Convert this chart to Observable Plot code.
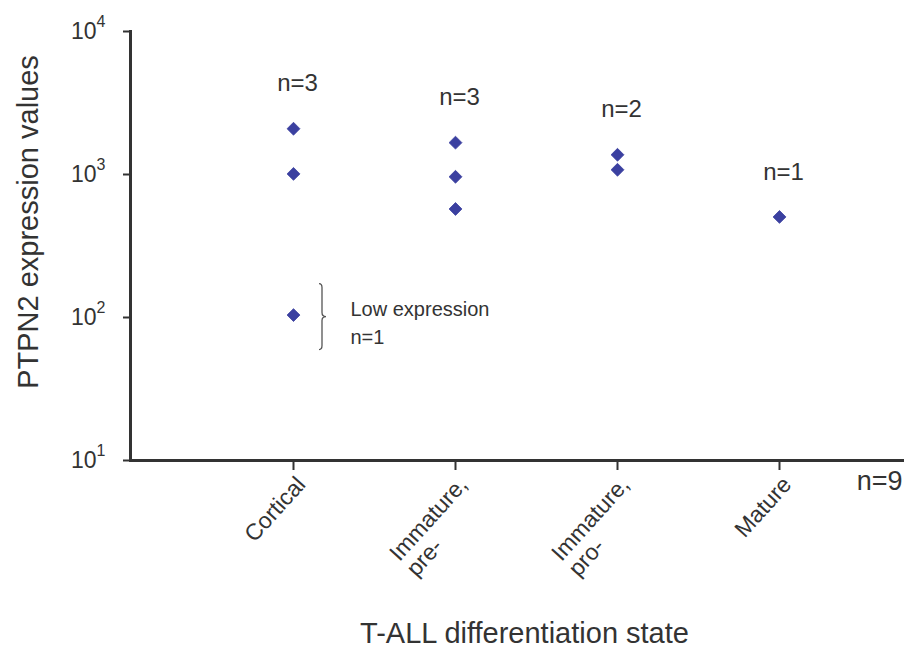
<!DOCTYPE html>
<html><head><meta charset="utf-8">
<script src="https://cdn.jsdelivr.net/npm/d3@7"></script>
<script src="https://cdn.jsdelivr.net/npm/@observablehq/plot@0.6"></script>
<style>body{margin:0;background:#fff;} svg{display:block}</style>
</head><body><div id="chart"></div>
<script>
// Categories (x) and values (PTPN2 expression) per category
const categories = ["Cortical", "Immature,\npre-", "Immature,\npro-", "Mature"];
const cortical = [2090, 1010, 104];
const immaturePre = [1670, 964, 574];
const immaturePro = [1374, 1079];
const mature = [505];
const yTicks = [10, 100, 1000, 10000];
const lowExpressionValue = 104;
const lowExpressionLabel = "Low expression\nn=1";
const xTitle = "T-ALL differentiation state";
const yTitle = "PTPN2 expression values";

const groups = [cortical, immaturePre, immaturePro, mature];
const rows = groups.flatMap((vals, i) => vals.map(v => ({cat: categories[i], value: v})));
const summary = groups.map((vals, i) => ({cat: categories[i], max: d3.max(vals), n: vals.length}));
const total = d3.sum(groups, g => g.length);

const ink = "#333";
const font = "Liberation Sans, Arial, sans-serif";

// rotated x tick labels: first line ends at the tick, lines are left-aligned
const tickFont = 23, angle = -48;
const ctx = document.createElement("canvas").getContext("2d");
ctx.font = `${tickFont}px "Liberation Sans", Arial, sans-serif`;
const rad = angle * Math.PI / 180;
const tickLabelMarks = categories.map(c => {
  const w1 = ctx.measureText(c.split("\n")[0]).width;
  return Plot.text([c], {
    x: d => d, frameAnchor: "bottom", text: d => d, rotate: angle,
    textAnchor: "start", lineAnchor: "top",
    dx: 1 - Math.cos(rad) * w1, dy: 14 - Math.sin(rad) * w1,
    fontSize: tickFont, fill: ink
  });
});

const chart = Plot.plot({
  width: 904, height: 650,
  marginTop: 31, marginBottom: 190, marginLeft: 130, marginRight: 0,
  style: {fontFamily: font, color: ink, background: "#fff"},
  x: {type: "point", domain: categories, range: [292, 779], padding: 0},
  y: {type: "log", domain: [10, 10000]},
  marks: [
    Plot.axisY({ticks: yTicks, tickSize: 7, tickFormat: () => "", stroke: ink, strokeWidth: 2, label: null}),
    Plot.axisX({tickSize: 10, tickFormat: () => "", stroke: ink, strokeWidth: 2, label: null}),
    Plot.frame({anchor: "left", stroke: ink, strokeWidth: 3}),
    Plot.ruleY([10], {stroke: ink, strokeWidth: 3}),
    // y tick labels 10^k
    Plot.text(yTicks, {y: d => d, frameAnchor: "left", text: () => "10", textAnchor: "end", lineAnchor: "middle", dx: -34, fontSize: 23, fill: ink}),
    Plot.text(yTicks, {y: d => d, frameAnchor: "left", text: d => String(Math.round(Math.log10(d))), textAnchor: "start", lineAnchor: "middle", dx: -34, dy: -10, fontSize: 16, fill: ink}),
    ...tickLabelMarks,
    // points
    Plot.dot(rows, {x: "cat", y: "value", symbol: "diamond2", r: 5.8, fill: "#3b40a0", stroke: "#3b40a0", strokeWidth: 0.8}),
    // n labels
    Plot.text(summary, {x: "cat", y: "max", text: d => `n=${d.n}`, dy: -45, dx: 4, lineAnchor: "middle", fontSize: 24, fill: ink}),
    // low expression annotation
    Plot.text([lowExpressionValue], {x: () => categories[0], y: d => d, text: () => lowExpressionLabel, textAnchor: "start", lineAnchor: "middle", dx: 57, dy: 6, fontSize: 20, lineHeight: 1.4, fill: ink}),
    // total n
    Plot.text([`n=${total}`], {frameAnchor: "bottom-right", text: d => d, textAnchor: "end", lineAnchor: "middle", dx: -2, dy: 21, fontSize: 27, fill: ink}),
    // axis titles
    Plot.text([yTitle], {frameAnchor: "left", text: d => d, rotate: -90, textAnchor: "middle", lineAnchor: "middle", dx: -102, dy: -24, fontSize: 29, fill: ink}),
    Plot.text([xTitle], {frameAnchor: "bottom", text: d => d, textAnchor: "middle", lineAnchor: "middle", dx: 7, dy: 173, fontSize: 29, fill: ink})
  ]
});

// brace next to the low-expression point, positioned with the plot's scales
const sx = chart.scale("x"), sy = chart.scale("y");
const px = sx.apply(categories[0]), py = sy.apply(lowExpressionValue);
const x0 = px + 26, x1 = px + 29, x2 = px + 33;
const yt = py - 31, yb = py + 35, ym = py + 2;
const p = d3.path();
p.moveTo(x0, yt);
p.quadraticCurveTo(x1, yt, x1, yt + 4);
p.lineTo(x1, ym - 4);
p.quadraticCurveTo(x1, ym, x2, ym);
p.quadraticCurveTo(x1, ym, x1, ym + 4);
p.lineTo(x1, yb - 4);
p.quadraticCurveTo(x1, yb, x0, yb);
d3.select(chart).append("path").attr("d", p.toString()).attr("fill", "none").attr("stroke", "#555").attr("stroke-width", 1.3);

document.getElementById("chart").appendChild(chart);
</script>
</body></html>
